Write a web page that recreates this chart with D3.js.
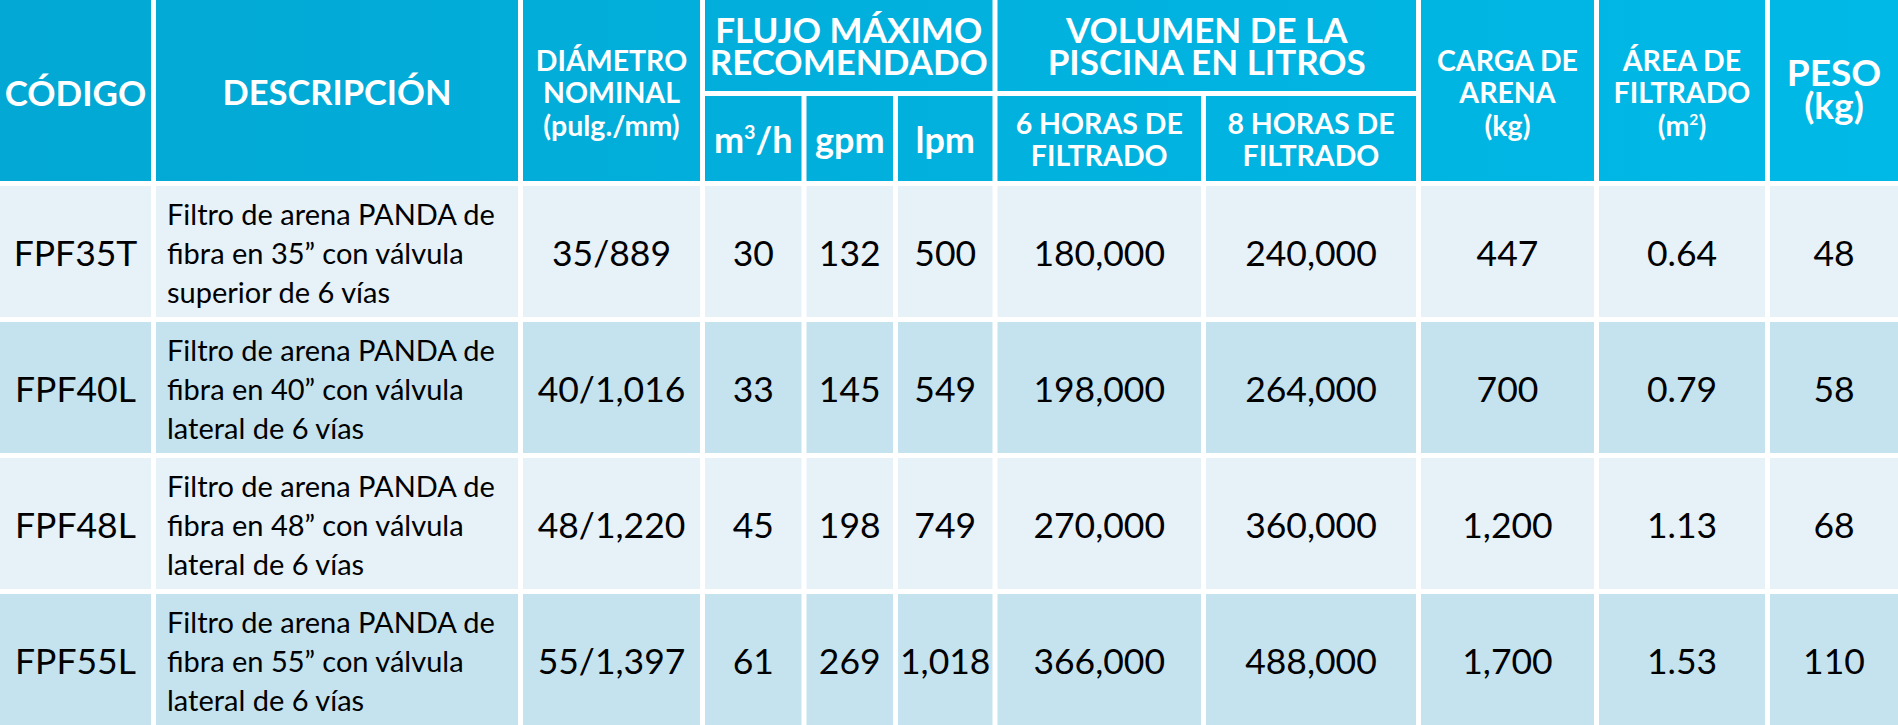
<!DOCTYPE html>
<html>
<head>
<meta charset="utf-8">
<script src="https://cdn.jsdelivr.net/npm/d3@7"></script>
<style>
  html, body { margin: 0; padding: 0; background: #ffffff; }
  svg { display: block; font-family: "Lato", "Open Sans", sans-serif; }
</style>
</head>
<body>
<div id="chart"></div>
<script>
// ---------- DATA ----------
var codes = ["FPF35T", "FPF40L", "FPF48L", "FPF55L"];
var descriptions = [
    ["Filtro de arena PANDA de", "fibra en 35\u201D con válvula", "superior de 6 vías"],
    ["Filtro de arena PANDA de", "fibra en 40\u201D con válvula", "lateral de 6 vías"],
    ["Filtro de arena PANDA de", "fibra en 48\u201D con válvula", "lateral de 6 vías"],
    ["Filtro de arena PANDA de", "fibra en 55\u201D con válvula", "lateral de 6 vías"]
];
var diametro = ["35/889", "40/1,016", "48/1,220", "55/1,397"];
var flujoM3h = [30, 33, 45, 61];
var flujoGpm = [132, 145, 198, 269];
var flujoLpm = [500, 549, 749, 1018];
var volumen6h = [180000, 198000, 270000, 366000];
var volumen8h = [240000, 264000, 360000, 488000];
var cargaArena = [447, 700, 1200, 1700];
var areaFiltrado = [0.64, 0.79, 1.13, 1.53];
var peso = [48, 58, 68, 110];

// ---------- LAYOUT ----------
var width = 1898, height = 725;
var gap = 5;
// column boundaries (centre of the white gaps)
var colEdges = [0, 153.5, 520.5, 702.5, 804, 895.5, 995, 1203.5, 1418.5, 1596.5, 1767.5, 1898];
var headerTop = 91, headerSubTop = 96, headerBottom = 181;

var svg = d3.select("#chart").append("svg")
    .attr("width", width)
    .attr("height", height);

var defs = svg.append("defs");
var grad = defs.append("linearGradient")
    .attr("id", "headGrad")
    .attr("gradientUnits", "userSpaceOnUse")
    .attr("x1", 0).attr("x2", width).attr("y1", 0).attr("y2", 0);
grad.append("stop").attr("offset", "0%").attr("stop-color", "#03a8d4");
grad.append("stop").attr("offset", "100%").attr("stop-color", "#00b9e7");

function colX0(i) { return i === 0 ? 0 : colEdges[i] + gap / 2; }
function colX1(i) { return i === colEdges.length - 2 ? width : colEdges[i + 1] - gap / 2; }

var y = d3.scaleBand()
    .domain(codes)
    .range([headerBottom + gap / 2, height + gap / 2]);

var CAP = 0.7165;

// lines: array of strings or arrays of {t, sup}
function multiText(g, cx, cy, lines, fs, lh, weight, color, anchor) {
    var n = lines.length;
    var first = cy - (n - 1) * lh / 2 + fs * CAP / 2;
    var txt = g.append("text")
        .attr("text-anchor", anchor || "middle")
        .attr("font-size", fs)
        .attr("font-weight", weight)
        .attr("fill", color);
    lines.forEach(function(line, k) {
        var parts = typeof line === "string" ? [{t: line}] : line;
        parts.forEach(function(p, m) {
            var ts = txt.append("tspan").text(p.t);
            if (m === 0) ts.attr("x", cx).attr("y", first + k * lh);
            if (p.sup) {
                ts.attr("font-size", fs * 0.55).attr("dy", -fs * 0.38);
            } else if (m > 0 && parts[m - 1].sup) {
                ts.attr("dy", fs * 0.38);
            }
        });
    });
    return txt;
}

// ---------- HEADER ----------
var head = svg.append("g").attr("class", "header");

var headerCells = [
    {c0: 0, c1: 0, y0: 0, y1: headerBottom, lines: ["CÓDIGO"], fs: 35, lh: 35, cy: 93},
    {c0: 1, c1: 1, y0: 0, y1: headerBottom, lines: ["DESCRIPCIÓN"], fs: 34.5, lh: 35, cy: 93},
    {c0: 2, c1: 2, y0: 0, y1: headerBottom, lines: ["DIÁMETRO", "NOMINAL", "(pulg./mm)"], fs: 28.5, lh: 32.5, cy: 93},
    {c0: 3, c1: 5, y0: 0, y1: headerTop, lines: ["FLUJO MÁXIMO", "RECOMENDADO"], fs: 35, lh: 32, cy: 46},
    {c0: 6, c1: 7, y0: 0, y1: headerTop, lines: ["VOLUMEN DE LA", "PISCINA EN LITROS"], fs: 35, lh: 32, cy: 46},
    {c0: 3, c1: 3, y0: headerSubTop, y1: headerBottom, lines: [[{t: "m"}, {t: "3", sup: true}, {t: "/h"}]], fs: 36, lh: 36, cy: 140},
    {c0: 4, c1: 4, y0: headerSubTop, y1: headerBottom, lines: ["gpm"], fs: 36, lh: 36, cy: 140},
    {c0: 5, c1: 5, y0: headerSubTop, y1: headerBottom, lines: ["lpm"], fs: 36, lh: 36, cy: 140},
    {c0: 6, c1: 6, y0: headerSubTop, y1: headerBottom, lines: ["6 HORAS DE", "FILTRADO"], fs: 28.5, lh: 32, cy: 140},
    {c0: 7, c1: 7, y0: headerSubTop, y1: headerBottom, lines: ["8 HORAS DE", "FILTRADO"], fs: 28.5, lh: 32, cy: 140},
    {c0: 8, c1: 8, y0: 0, y1: headerBottom, lines: ["CARGA DE", "ARENA", "(kg)"], fs: 28.5, lh: 32.5, cy: 93},
    {c0: 9, c1: 9, y0: 0, y1: headerBottom, lines: ["ÁREA DE", "FILTRADO", [{t: "(m"}, {t: "2", sup: true}, {t: ")"}]], fs: 28.5, lh: 32.5, cy: 93},
    {c0: 10, c1: 10, y0: 0, y1: headerBottom, lines: ["PESO", "(kg)"], fs: 37, lh: 33, cy: 89}
];

headerCells.forEach(function(d) {
    var x0 = colX0(d.c0), x1 = colX1(d.c1);
    head.append("rect")
        .attr("x", x0).attr("y", d.y0)
        .attr("width", x1 - x0).attr("height", d.y1 - d.y0)
        .attr("fill", "url(#headGrad)");
    multiText(head, (x0 + x1) / 2, d.cy, d.lines, d.fs, d.lh, 700, "#ffffff");
});

// ---------- BODY ----------
var fmtInt = d3.format(",");
var fmtArea = d3.format(".2f");
var rowFill = ["#e6f1f8", "#c5e3ee"];
var numFs = 35.5;

var body = svg.append("g").attr("class", "body");

codes.forEach(function(code, r) {
    var ry0 = y(code) + gap / 2;
    var rh = y.bandwidth() - gap;
    var cy = ry0 + rh / 2 + 2;
    var values = [
        code,
        null,
        diametro[r],
        fmtInt(flujoM3h[r]),
        fmtInt(flujoGpm[r]),
        fmtInt(flujoLpm[r]),
        fmtInt(volumen6h[r]),
        fmtInt(volumen8h[r]),
        fmtInt(cargaArena[r]),
        fmtArea(areaFiltrado[r]),
        fmtInt(peso[r])
    ];
    var g = body.append("g").attr("class", "row");
    values.forEach(function(v, c) {
        var x0 = colX0(c), x1 = colX1(c);
        g.append("rect")
            .attr("x", x0).attr("y", ry0)
            .attr("width", x1 - x0).attr("height", rh)
            .attr("fill", rowFill[r % 2]);
        if (c === 1) {
            multiText(g, x0 + 11, cy, descriptions[r], 29, 39, 400, "#000000", "start");
        } else {
            multiText(g, (x0 + x1) / 2, cy, [v], numFs, numFs, 400, "#000000");
        }
    });
});
</script>
</body>
</html>
